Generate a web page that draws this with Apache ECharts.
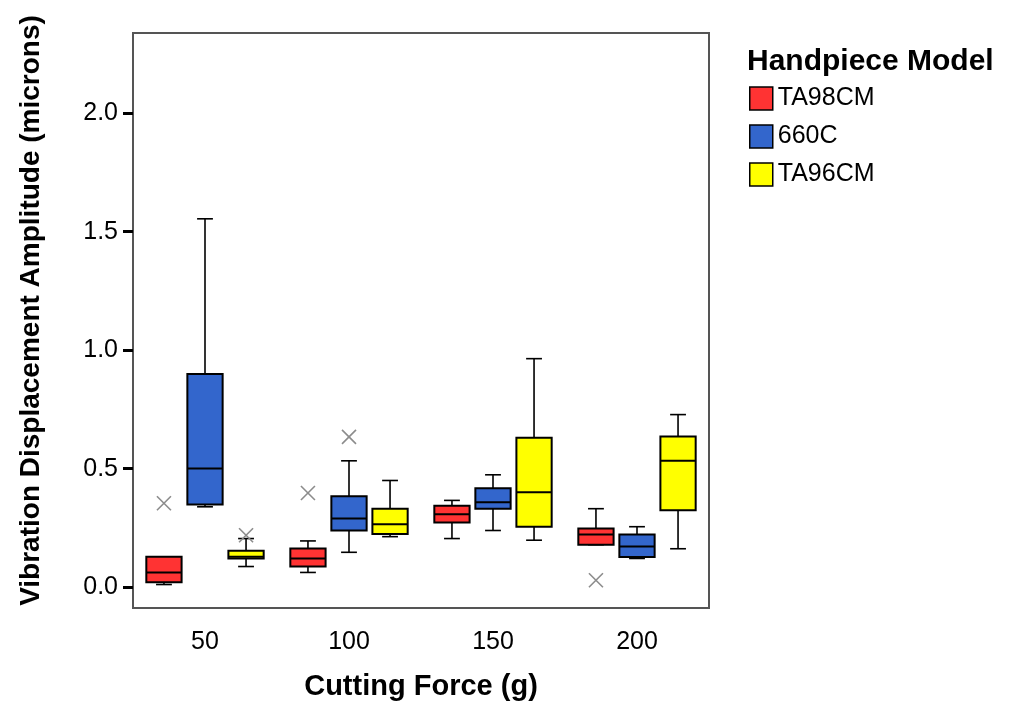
<!DOCTYPE html>
<html>
<head>
<meta charset="utf-8">
<script src="https://cdn.jsdelivr.net/npm/echarts@6/dist/echarts.min.js"></script>
<style>
  html, body { margin: 0; padding: 0; background: #fff; }
</style>
</head>
<body>
<div id="boxChart" style="width:1014px;height:706px;"></div>
<script>
// cutting force groups (x axis)
var forces = ["50", "100", "150", "200"];
var models = ["TA98CM", "660C", "TA96CM"];
var colors = ["#ff3333", "#3366cc", "#ffff00"];

// [min, q1, median, q3, max] per force group
var ta98cmBoxes = [
  [0.011, 0.021, 0.062, 0.128, 0.128],
  [0.062, 0.087, 0.121, 0.163, 0.195],
  [0.205, 0.273, 0.308, 0.343, 0.366],
  [0.179, 0.179, 0.222, 0.247, 0.331]
];
var c660Boxes = [
  [0.339, 0.349, 0.501, 0.899, 1.554],
  [0.147, 0.239, 0.290, 0.384, 0.533],
  [0.239, 0.331, 0.358, 0.417, 0.474],
  [0.121, 0.127, 0.171, 0.222, 0.255]
];
var ta96cmBoxes = [
  [0.087, 0.121, 0.128, 0.154, 0.205],
  [0.213, 0.224, 0.265, 0.331, 0.450],
  [0.198, 0.255, 0.400, 0.630, 0.964],
  [0.162, 0.324, 0.533, 0.636, 0.728]
];

// outliers: [force group index, value]
var ta98cmOutliers = [[0, 0.354], [1, 0.397], [3, 0.029]];
var c660Outliers = [[1, 0.634]];
var ta96cmOutliers = [[0, 0.219]];

var yTicks = [0, 0.5, 1.0, 1.5, 2.0];

var FONT = "Liberation Sans, Arial, sans-serif";
var OFFSETS = [-0.285, 0, 0.285]; // box centre offset, fraction of band
var BOX_W = 0.245;
var CAP_W = 0.11;

function boxRender(offset) {
  return function (params, api) {
    var cat = api.value(0);
    var band = api.size([1, 0])[0];
    var cx = api.coord([cat, 0])[0] + offset * band;
    var half = band * BOX_W / 2;
    var cap = band * CAP_W / 2;
    var y = [];
    for (var i = 1; i <= 5; i++) {
      y.push(api.coord([cat, api.value(i)])[1]);
    }
    var ls = { stroke: "#000", lineWidth: 1.6 };
    return {
      type: "group",
      children: [
        { type: "line", shape: { x1: cx, y1: y[0], x2: cx, y2: y[1] }, style: ls },
        { type: "line", shape: { x1: cx, y1: y[3], x2: cx, y2: y[4] }, style: ls },
        { type: "line", shape: { x1: cx - cap, y1: y[0], x2: cx + cap, y2: y[0] }, style: ls },
        { type: "line", shape: { x1: cx - cap, y1: y[4], x2: cx + cap, y2: y[4] }, style: ls },
        {
          type: "rect",
          shape: { x: cx - half, y: y[3], width: half * 2, height: y[1] - y[3] },
          style: { fill: api.visual("color"), stroke: "#000", lineWidth: 2 }
        },
        { type: "line", shape: { x1: cx - half, y1: y[2], x2: cx + half, y2: y[2] }, style: { stroke: "#000", lineWidth: 2 } }
      ]
    };
  };
}

function outlierRender(offset) {
  return function (params, api) {
    var cat = api.value(0);
    var band = api.size([1, 0])[0];
    var p = api.coord([cat, api.value(1)]);
    var cx = p[0] + offset * band;
    var s = 7;
    var ls = { stroke: "#8c8c8c", lineWidth: 1.6 };
    return {
      type: "group",
      children: [
        { type: "line", shape: { x1: cx - s, y1: p[1] - s, x2: cx + s, y2: p[1] + s }, style: ls },
        { type: "line", shape: { x1: cx - s, y1: p[1] + s, x2: cx + s, y2: p[1] - s }, style: ls }
      ]
    };
  };
}

function withIndex(rows) {
  return rows.map(function (r, i) { return [i].concat(r); });
}

var boxSets = [ta98cmBoxes, c660Boxes, ta96cmBoxes];
var outlierSets = [ta98cmOutliers, c660Outliers, ta96cmOutliers];

var series = [];
models.forEach(function (m, k) {
  series.push({
    name: m,
    type: "custom",
    renderItem: boxRender(OFFSETS[k]),
    itemStyle: { color: colors[k] },
    encode: { x: 0, y: [1, 2, 3, 4, 5] },
    data: withIndex(boxSets[k]),
    z: 3
  });
});
models.forEach(function (m, k) {
  series.push({
    name: m,
    type: "custom",
    renderItem: outlierRender(OFFSETS[k]),
    itemStyle: { color: colors[k] },
    encode: { x: 0, y: 1 },
    data: outlierSets[k],
    z: 4
  });
});

var myChart = echarts.init(document.getElementById("boxChart"));
myChart.setOption({
  animation: false,
  color: colors,
  title: {
    text: "Handpiece Model",
    left: 747,
    top: 47,
    padding: 0,
    textStyle: { fontFamily: FONT, fontSize: 30, fontWeight: "bold", color: "#000" }
  },
  legend: {
    orient: "vertical",
    left: 749,
    top: 86,
    itemWidth: 23,
    itemHeight: 23,
    itemGap: 13,
    padding: 0,
    icon: "rect",
    itemStyle: { borderColor: "#000", borderWidth: 1.5 },
    textStyle: { fontFamily: FONT, fontSize: 25, color: "#000" },
    data: models
  },
  grid: {
    left: 133,
    right: 305,
    top: 33,
    bottom: 97,
    show: true,
    borderColor: "#555",
    borderWidth: 2
  },
  xAxis: {
    type: "category",
    data: forces,
    name: "Cutting Force (g)",
    nameLocation: "middle",
    nameGap: 64,
    nameTextStyle: { fontFamily: FONT, fontSize: 29, fontWeight: "bold", color: "#000" },
    axisLine: { show: false },
    axisTick: { alignWithLabel: true, length: 11, lineStyle: { color: "#000", width: 3 } },
    axisLabel: { fontFamily: FONT, fontSize: 25, color: "#000", margin: 22 }
  },
  yAxis: {
    type: "value",
    min: -0.088,
    max: 2.338,
    name: "Vibration Displacement Amplitude (microns)",
    nameLocation: "middle",
    nameRotate: 90,
    nameGap: 88,
    nameTextStyle: {
      fontFamily: FONT, fontSize: 28, fontWeight: "bold", color: "#000",
      padding: [0, 0, 0, 20]
    },
    axisLine: { show: false },
    splitLine: { show: false },
    axisTick: { show: true, length: 10, customValues: yTicks, lineStyle: { color: "#000", width: 3 } },
    axisLabel: {
      fontFamily: FONT,
      fontSize: 25,
      color: "#000",
      margin: 15,
      customValues: yTicks,
      formatter: function (v) { return v.toFixed(1); }
    }
  },
  series: series
});
</script>
</body>
</html>
